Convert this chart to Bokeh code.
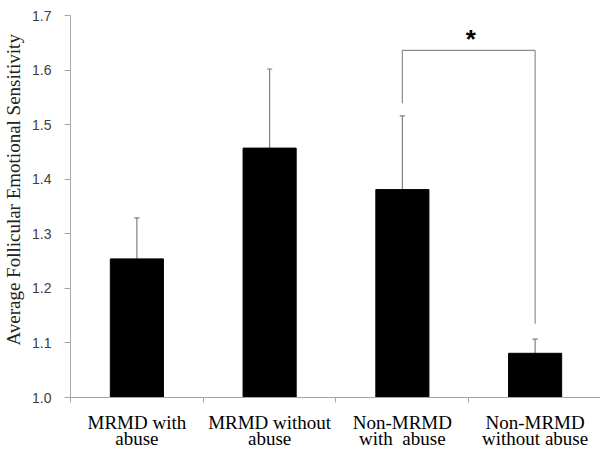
from bokeh.plotting import figure
from bokeh.models import Range1d, FixedTicker, LinearAxis, NumeralTickFormatter, ColumnDataSource
from bokeh.core.properties import value
from bokeh.embed import file_html
from bokeh.resources import INLINE

# ---- data ----
categories = ["MRMD with\nabuse", "MRMD without\nabuse", "Non-MRMD\nwith\u00a0 abuse", "Non-MRMD\nwithout abuse"]
positions = [1, 2, 3, 4]
means = [1.254, 1.457, 1.381, 1.081]
err_upper = [0.075, 0.145, 0.135, 0.026]
y_ticks = [1.0, 1.1, 1.2, 1.3, 1.4, 1.5, 1.6, 1.7]
y_title = "Average Follicular Emotional Sensitivity"
# significance bracket between group 3 and 4
sig_groups = [3, 4]
sig_top = 1.636
sig_bottoms = [1.539, 1.135]
sig_label = "*"

tops = [m + e for m, e in zip(means, err_upper)]

p = figure(width=600, height=454, output_backend="svg", toolbar_location=None,
           x_range=Range1d(0.5, 4.4925), y_range=Range1d(1.0, 1.7),
           min_border_left=69, min_border_right=0, min_border_top=15, min_border_bottom=57,
           x_axis_type=None, y_axis_type=None)
p.outline_line_color = None
p.background_fill_color = "white"
p.border_fill_color = "white"

# axes
xaxis = LinearAxis(ticker=FixedTicker(ticks=positions, minor_ticks=[0.5, 1.5, 2.5, 3.5]))
xaxis.major_label_overrides = {pos: lab for pos, lab in zip(positions, categories)}
xaxis.major_tick_line_color = None
xaxis.minor_tick_line_color = "#a6a6a6"
xaxis.minor_tick_in = 0
xaxis.minor_tick_out = 5
xaxis.axis_line_color = "#a6a6a6"
xaxis.major_label_text_font = "Liberation Serif"
xaxis.major_label_text_font_size = "19px"
xaxis.major_label_text_color = "black"
xaxis.major_label_text_line_height = 0.8
xaxis.major_label_standoff = 8
p.add_layout(xaxis, "below")

yaxis = LinearAxis(ticker=FixedTicker(ticks=y_ticks, minor_ticks=[]))
yaxis.formatter = NumeralTickFormatter(format="0.0")
yaxis.major_tick_in = 0
yaxis.major_tick_out = 6
yaxis.major_tick_line_color = "#a6a6a6"
yaxis.axis_line_color = "#a6a6a6"
yaxis.major_label_text_font = "Liberation Sans"
yaxis.major_label_text_font_size = "14px"
yaxis.major_label_text_color = "#404040"
yaxis.major_label_standoff = 13
# leading no-break spaces shift the centred title upwards, as in the original
yaxis.axis_label = "\u00a0" * 7 + y_title
yaxis.axis_label_text_font = "Liberation Serif"
yaxis.axis_label_text_font_size = "19px"
yaxis.axis_label_text_font_style = "normal"
yaxis.axis_label_text_color = "#222222"
yaxis.axis_label_standoff = 5
p.add_layout(yaxis, "left")

p.ygrid.ticker = FixedTicker(ticks=y_ticks)
p.ygrid.grid_line_color = "#d9d9d9"
p.ygrid.grid_line_width = 1
p.xgrid.grid_line_color = None

src = ColumnDataSource(dict(x=positions, mean=means, top=tops,
                            cl=[x - 0.02 for x in positions], cr=[x + 0.02 for x in positions]))

# error bars (upper only)
p.segment(x0="x", y0="mean", x1="x", y1="top", source=src, line_color="#7f7f7f", line_width=1.2)
p.segment(x0="cl", y0="top", x1="cr", y1="top", source=src, line_color="#7f7f7f", line_width=1.2)

# bars
p.vbar(x="x", top="mean", bottom=1.0, width=0.40, source=src,
       fill_color="black", line_color="black")

# significance bracket
p.line(x=[sig_groups[0], sig_groups[0], sig_groups[1], sig_groups[1]],
       y=[sig_bottoms[0], sig_top, sig_top, sig_bottoms[1]],
       line_color="#8c8c8c", line_width=1.2)
p.text(x=[(sig_groups[0] + sig_groups[1]) / 2 + 0.015], y=[sig_top - 0.006], text=[sig_label],
       text_font=value("Liberation Sans"), text_font_size="26px", text_font_style="bold",
       text_align="center", text_baseline="bottom", text_color="black")

open("out.html", "w").write(file_html(p, INLINE))
